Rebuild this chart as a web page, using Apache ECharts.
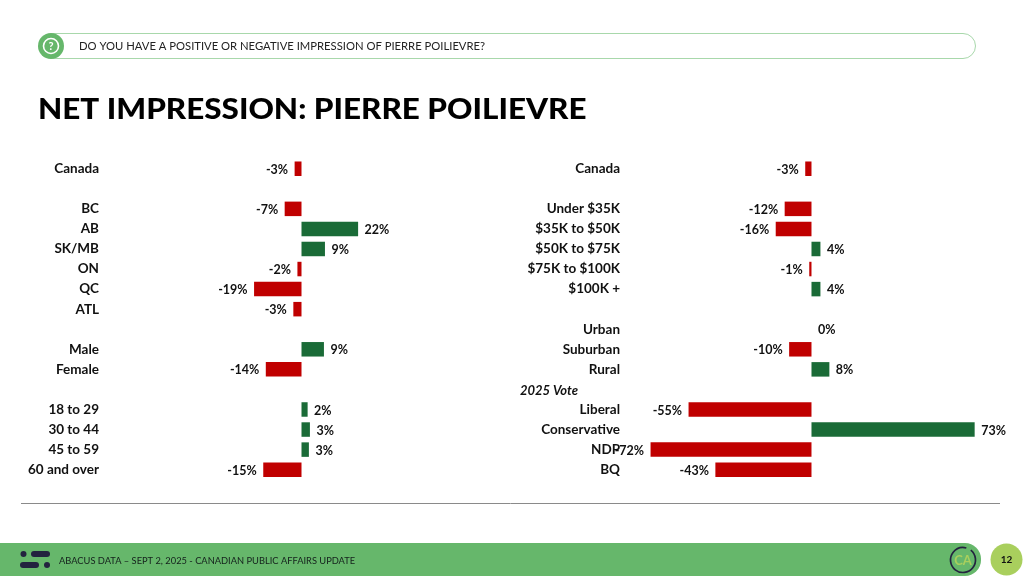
<!DOCTYPE html>
<html><head><meta charset="utf-8">
<style>html,body{margin:0;padding:0;background:#fff}#c{width:1024px;height:576px}</style>
<script src="https://cdn.jsdelivr.net/npm/echarts@6/dist/echarts.min.js"></script>
</head><body><div id="c"></div>
<script>
const leftCategories = ['Canada','','BC','AB','SK/MB','ON','QC','ATL','','Male','Female','','18 to 29','30 to 44','45 to 59','60 and over'];
const leftValues = [-2.7,null,-6.6,22.2,9.2,-1.6,-18.6,-3.2,null,8.8,-14,null,2.4,3.3,2.9,-15];
const leftLabels = ['-3%','','-7%','22%','9%','-2%','-19%','-3%','','9%','-14%','','2%','3%','3%','-15%'];
const rightCategories = ['Canada','','Under $35K','$35K to $50K','$50K to $75K','$75K to $100K','$100K +','','Urban','Suburban','Rural','2025 Vote','Liberal','Conservative','NDP','BQ'];
const rightValues = [-2.8,null,-12,-16,4,-1,4,null,0,-10,8,null,-55,73,-72,-43];
const rightLabels = ['-3%','','-12%','-16%','4%','-1%','4%','','0%','-10%','8%','','-55%','73%','-72%','-43%'];
const FONT = 'Lato';
const RED = '#C00000', GREEN = '#1A6B37', INK = '#111';

function xAxis(i,min,max){return {gridIndex:i,type:'value',min,max,show:false};}
function yAxis(i,cats,margin){return {gridIndex:i,type:'category',inverse:true,data:cats,
  axisLine:{show:false},axisTick:{show:false},splitLine:{show:false},
  axisLabel:{margin,interval:0,color:INK,fontFamily:FONT,fontWeight:'bold',fontSize:13.5,
    formatter:v=>v==='2025 Vote'?'{i|'+v+'}':v,
    rich:{i:{fontFamily:FONT,fontStyle:'italic',fontWeight:'bold',fontSize:13,color:INK,padding:[3,42,0,0]}}}};}
function series(i,vals,labels){return {type:'bar',xAxisIndex:i,yAxisIndex:i,data:vals,barWidth:14.5,
  itemStyle:{color:p=>p.value<0?RED:GREEN},
  label:{show:true,position:'outside',distance:6.5,offset:[0,1],color:INK,fontFamily:FONT,fontWeight:'bold',fontSize:12.5,
    formatter:p=>labels[p.dataIndex]}};}

const chart = echarts.init(document.getElementById('c'),null,{renderer:'canvas'});
chart.setOption({
  animation:false,
  backgroundColor:'#fff',
  grid:[
    {left:102.6,top:158.7,width:300.9,height:321,containLabel:false},
    {left:621.5,top:158.7,width:368.8,height:321,containLabel:false}
  ],
  xAxis:[xAxis(0,-78,40),xAxis(1,-85,80)],
  yAxis:[yAxis(0,leftCategories,3.6),yAxis(1,rightCategories,1.5)],
  series:[series(0,leftValues,leftLabels),series(1,rightValues,rightLabels)],
  graphic:[
    {type:'rect',shape:{x:40.5,y:33.5,width:935,height:25,r:12.5},style:{fill:'#fff',stroke:'#A8D8AB',lineWidth:1}},
    {type:'circle',shape:{cx:51,cy:46,r:13},style:{fill:'#66B76B'}},
    {type:'circle',shape:{cx:51,cy:46,r:7.5},style:{fill:'none',stroke:'#fff',lineWidth:1.6}},
    {type:'text',style:{x:51,y:46,text:'?',fill:'#fff',font:'bold 11px Lato',align:'center',verticalAlign:'middle'}},
    {type:'text',style:{x:79,y:46.5,text:'DO YOU HAVE A POSITIVE OR NEGATIVE IMPRESSION OF PIERRE POILIEVRE?',fill:'#222',font:'11.25px Lato',verticalAlign:'middle'}},
    {type:'text',x:38,y:110,scaleX:1.083,style:{x:0,y:0,text:'NET IMPRESSION: PIERRE POILIEVRE',fill:'#000',font:'900 29px Lato',verticalAlign:'middle'}},
    {type:'line',shape:{x1:21,y1:503.5,x2:1000,y2:503.5},style:{stroke:'#8a8a8a',lineWidth:1}},
    {type:'rect',shape:{x:-30,y:543,width:1011,height:33,r:[0,16,16,0]},style:{fill:'#66B76B'}},
    {type:'circle',shape:{cx:23.5,cy:554,r:3},style:{fill:'#23233F'}},
    {type:'rect',shape:{x:31,y:551,width:19,height:6,r:3},style:{fill:'#23233F'}},
    {type:'rect',shape:{x:20,y:562,width:19,height:6,r:3},style:{fill:'#23233F'}},
    {type:'circle',shape:{cx:47,cy:565,r:3},style:{fill:'#23233F'}},
    {type:'text',style:{x:59,y:560.5,text:'ABACUS DATA – SEPT 2, 2025 - CANADIAN PUBLIC AFFAIRS UPDATE',fill:'#14201c',font:'9.3px Lato',verticalAlign:'middle'}},
    {type:'arc',shape:{cx:963,cy:560,r:12.5,startAngle:-0.9,endAngle:-1.3,clockwise:true},style:{fill:'none',stroke:'#23233F',lineWidth:1.7}},
    {type:'text',style:{x:963,y:560.5,text:'CA',fill:'#A9CF5D',font:'bold 13px Lato',align:'center',verticalAlign:'middle'}},
    {type:'circle',shape:{cx:1006.5,cy:559.5,r:16},style:{fill:'#A9CF5D'}},
    {type:'text',style:{x:1006.5,y:559.5,text:'12',fill:'#111',font:'bold 10px Lato',align:'center',verticalAlign:'middle'}}
  ]
});
</script></body></html>
